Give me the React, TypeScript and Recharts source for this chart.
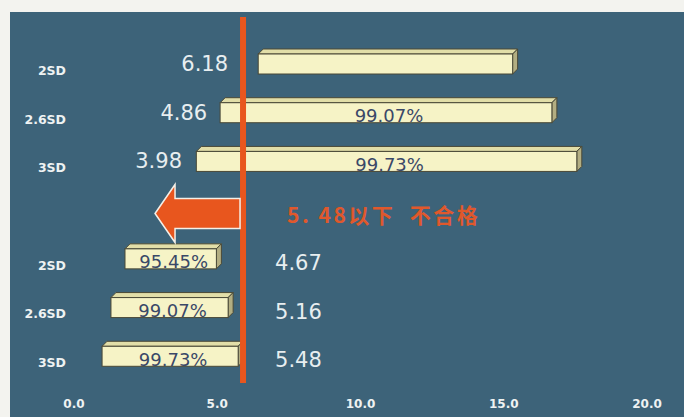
import { Bar, ComposedChart, ReferenceLine, XAxis, YAxis } from "recharts"

// rows top to bottom, the empty one is the gap between the two groups
const categories = ["2SD", "2.6SD", "3SD", "", "2SD", "2.6SD", "3SD"]
const lowEnds = [6.43, 5.1, 4.27, null, 1.78, 1.29, 0.98]
const highEnds = [15.31, 16.68, 17.55, null, 4.97, 5.38, 5.73]
const limitLabels = ["6.18", "4.86", "3.98", "", "4.67", "5.16", "5.48"]
const coverage = ["", "99.07%", "99.73%", "", "95.45%", "99.07%", "99.73%"]
const xTicks = [0, 5, 10, 15, 20]
const limit = 5.9
const limitText = "5. 48以下  不合格"

const data = categories.map((name, i) => ({
  id: `r${i}`,
  name,
  range: lowEnds[i] == null ? null : [lowEnds[i], highEnds[i]],
  limitLabel: limitLabels[i],
  coverage: coverage[i],
}))

const ORANGE = "#e8561e"

function Bar3D(props: any) {
  const { x, y, width, height, payload } = props
  if (!payload || !payload.range || !width) return null
  const [lo, hi] = payload.range
  const unit = width / (hi - lo)
  const origin = x - lo * unit
  const lineX = origin + limit * unit
  const cy = y + height / 2
  const top = cy - 16
  const h = 20
  const d = 5
  const right = x + width
  const v = parseFloat(payload.limitLabel)
  const leftSide = v < lo
  // keep the left labels clear of the red line
  const labelX = leftSide ? Math.min(origin + v * unit - 6, lineX - 15) : lineX + 32
  return (
    <g>
      <polygon
        points={`${x},${top} ${x + d},${top - d} ${right + d},${top - d} ${right},${top}`}
        fill="#e2dea8"
        stroke="#4a4936"
        strokeWidth={1}
      />
      <polygon
        points={`${right},${top} ${right + d},${top - d} ${right + d},${top + h - d} ${right},${top + h}`}
        fill="#b3ae82"
        stroke="#4a4936"
        strokeWidth={1}
      />
      <rect x={x} y={top} width={width} height={h} fill="#f6f3c6" stroke="#4a4936" strokeWidth={1} />
      {payload.coverage && (
        <text
          x={x + width / 2 + 3}
          y={top + h / 2 + 3}
          textAnchor="middle"
          dominantBaseline="central"
          fontFamily="DejaVu Sans"
          fontSize={18}
          fill="#3a4868"
        >
          {payload.coverage}
        </text>
      )}
      <text
        x={labelX}
        y={leftSide ? cy - 6 : cy - 2}
        textAnchor={leftSide ? "end" : "start"}
        dominantBaseline="central"
        fontFamily="DejaVu Sans"
        fontSize={21}
        fill="#e8eef0"
      >
        {payload.limitLabel}
      </text>
    </g>
  )
}

function LimitLine(props: any) {
  const { x1, y1, y2 } = props
  const top = Math.min(y1, y2)
  const bottom = Math.max(y1, y2)
  const cy = (top + bottom) / 2 - 3
  return (
    <g>
      <line x1={x1} y1={top - 29} x2={x1} y2={bottom - 4} stroke={ORANGE} strokeWidth={6} />
      <polygon
        points={`${x1 - 88},${cy} ${x1 - 68},${cy - 29} ${x1 - 68},${cy - 15} ${x1 - 3},${cy - 15} ${x1 - 3},${cy + 15} ${x1 - 68},${cy + 15} ${x1 - 68},${cy + 29}`}
        fill={ORANGE}
        stroke="#f4f0e8"
        strokeWidth={1.5}
      />
      <text
        x={x1 + 44}
        y={cy}
        dominantBaseline="central"
        fontFamily="'Noto Sans CJK SC', 'DejaVu Sans'"
        fontWeight="bold"
        fontSize={21}
        letterSpacing={2.5}
        fill="#e0582c"
        style={{ whiteSpace: "pre" }}
      >
        {limitText}
      </text>
    </g>
  )
}

export default function App() {
  return (
    <div style={{ position: "relative", width: 684, height: 417, background: "#f3f3ef" }}>
      <style>{`body{margin:0}`}</style>
      <div
        style={{
          position: "absolute",
          left: 10,
          top: 12,
          width: 674,
          height: 405,
          background: "#3d6379",
        }}
      />
      <div style={{ position: "absolute", left: 0, top: 0 }}>
        <ComposedChart
          width={684}
          height={417}
          data={data}
          layout="vertical"
          margin={{ top: 46, right: 37, bottom: 0, left: 0 }}
        >
          <XAxis
            type="number"
            domain={[0, 20]}
            ticks={xTicks}
            tickFormatter={(v) => v.toFixed(1)}
            axisLine={false}
            tickLine={false}
            height={30}
            tickMargin={6}
            tick={{ fill: "#eef2f2", fontSize: 12, fontWeight: "bold", fontFamily: "DejaVu Sans" }}
          />
          <YAxis
            type="category"
            dataKey="id"
            width={74}
            axisLine={false}
            tickLine={false}
            tickFormatter={(_, i) => categories[i]}
            tick={{ fill: "#eef2f2", fontSize: 12.5, fontWeight: "bold", fontFamily: "DejaVu Sans" }}
          />
          <Bar dataKey="range" barSize={24} shape={Bar3D} isAnimationActive={false} />
          <ReferenceLine x={limit} shape={LimitLine} />
        </ComposedChart>
      </div>
    </div>
  )
}
